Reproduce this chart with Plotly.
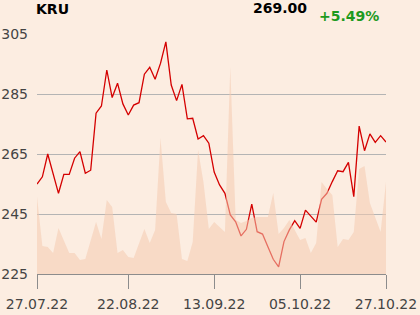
import pandas as pd
import plotly.graph_objects as go

# trading days (Warsaw, 15.08 holiday)
days = [d for d in pd.bdate_range("2022-07-27", "2022-10-27") if d.strftime("%Y-%m-%d") != "2022-08-15"]
dates = [d.strftime("%Y-%m-%d") for d in days]

close = [255, 257.4, 265, 258, 251.9, 258.2, 258.2, 263.6, 265.8, 258.6, 259.6, 278.6, 281, 293,
         283.8, 288.6, 281.7, 278, 281.3, 282.1, 291.6, 293.9, 289.9, 295.2, 302.4, 288, 282.8,
         288.2, 276.7, 276.9, 270, 271.1, 268.6, 259, 254.7, 251.9, 244.7, 242.4, 237.7, 239.9,
         248.3, 239.1, 238.3, 234.1, 229.9, 227.4, 235.8, 239.7, 242.8, 240.2, 246.3, 244.3,
         242.3, 249.9, 251.9, 255.8, 259.4, 259.1, 262.2, 250.8, 274.3, 266.1, 271.7, 268.9,
         271.1, 269.0]

volume = [77, 28, 27, 21, 46, 34, 21, 21, 14, 15, 34, 52, 35, 74, 67, 21, 24,
          17, 16, 31, 45, 31, 44, 136, 72, 61, 60, 15, 13, 32, 124, 92, 45, 52,
          47, 42, 207, 54, 51, 53, 56, 57, 57, 57, 81, 40, 46, 54, 44, 34, 36,
          21, 31, 92, 85, 79, 27, 35, 34, 42, 105, 108, 71, 56, 42, 92]

tick_dates = ["2022-07-27", "2022-08-22", "2022-09-13", "2022-10-05", "2022-10-27"]
tick_text = ["27.07.22", "22.08.22", "13.09.22", "05.10.22", "27.10.22"]
y_ticks = [225, 245, 265, 285, 305]

symbol = "KRU"
last_price = "269.00"
change = "+5.49%"

BG = "#fcede1"
FONT = "DejaVu Sans"

fig = go.Figure()
fig.add_trace(go.Scatter(x=dates, y=volume, yaxis="y2", mode="lines", fill="tozeroy",
                         line=dict(width=0, color="rgba(0,0,0,0)"),
                         fillcolor="rgba(244,203,176,0.55)", hoverinfo="skip"))
fig.add_trace(go.Scatter(x=dates, y=close, mode="lines",
                         line=dict(color="#d40000", width=1.3)))

fig.update_layout(
    width=420, height=315,
    margin=dict(l=37, r=34, t=34, b=41),
    paper_bgcolor=BG, plot_bgcolor=BG,
    showlegend=False,
    font=dict(family=FONT, size=14, color="#444444"),
    xaxis=dict(type="category", range=[0, len(dates) - 1], tickvals=tick_dates, ticktext=tick_text,
               showgrid=False, showline=True, linecolor="#8c8c8c", linewidth=1,
               ticks="outside", ticklen=14, tickcolor="#8c8c8c", tickwidth=1, automargin=False,
               ticklabelstandoff=3,
               tickfont=dict(size=14, color="#444444"), zeroline=False, fixedrange=True),
    yaxis=dict(range=[225, 305], tickvals=y_ticks, showgrid=True, gridcolor="#b4b4b4", gridwidth=1,
               zeroline=False, showline=False, ticks="", ticklabelstandoff=8, automargin=False,
               tickfont=dict(size=14, color="#444444")),
    yaxis2=dict(range=[0, 240], overlaying="y", visible=False, showgrid=False, automargin=False),
    annotations=[
        dict(text="<b>" + symbol + "</b>", xref="paper", yref="paper", x=-0.008, y=1.104,
             xanchor="left", yanchor="middle", showarrow=False,
             font=dict(family=FONT, size=14, color="#000000")),
        dict(text="<b>" + last_price + "</b>", xref="paper", yref="paper", x=0.78, y=1.108,
             xanchor="right", yanchor="middle", showarrow=False,
             font=dict(family=FONT, size=14, color="#000000")),
        dict(text="<b>" + change + "</b>", xref="paper", yref="paper", x=0.985, y=1.074,
             xanchor="right", yanchor="middle", showarrow=False,
             font=dict(family=FONT, size=14, color="#1e9a1e")),
    ],
)

fig.write_html("out.html")
